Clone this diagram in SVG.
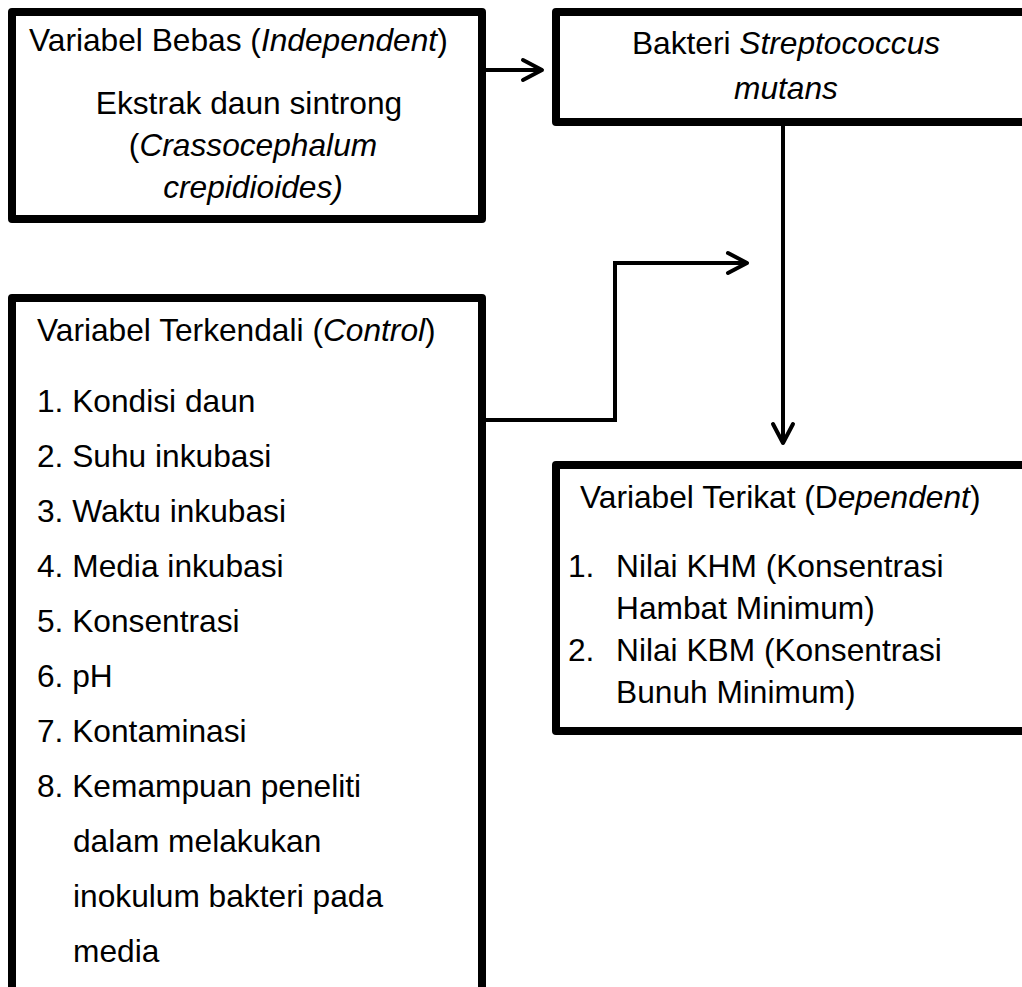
<svg xmlns="http://www.w3.org/2000/svg" width="1022" height="987" viewBox="0 0 1022 987">
<style>
.box{fill:#fff;stroke:#000;stroke-width:8;stroke-linejoin:round}
.t{font-family:"Liberation Sans",Arial,sans-serif;font-size:31.7px;fill:#000}
.i{font-style:italic}
.c{text-anchor:middle}
.ln{fill:none;stroke:#000;stroke-width:4}
</style>
<defs>
<marker id="ah" markerUnits="userSpaceOnUse" viewBox="-24 -14 28 28" markerWidth="28" markerHeight="28" refX="0" refY="0" orient="auto">
<path d="M-19,-10 L0,0 L-19,10" fill="none" stroke="#000" stroke-width="4" stroke-linecap="round" stroke-linejoin="round"/>
</marker>
</defs>
<rect width="1022" height="987" fill="#fff"/>
<g id="connectors">
<path class="ln" d="M486,70 H542" marker-end="url(#ah)"/>
<path class="ln" d="M783,126 V443" marker-end="url(#ah)"/>
<path class="ln" d="M486,420 H615 V263 H747" marker-end="url(#ah)"/>
</g>
<g id="bebas">
<rect class="box" x="12" y="12" width="470" height="207"/>
<text class="t" x="29" y="51">Variabel Bebas (<tspan class="i">Independent</tspan>)</text>
<text class="t c" x="249" y="114">Ekstrak daun sintrong</text>
<text class="t c" x="253" y="156">(<tspan class="i">Crassocephalum</tspan></text>
<text class="t c i" x="253" y="198">crepidioides)</text>
</g>
<g id="bakteri">
<rect class="box" x="556" y="12" width="480" height="110"/>
<text class="t c" x="786" y="54">Bakteri <tspan class="i">Streptococcus</tspan></text>
<text class="t c i" x="786" y="99">mutans</text>
</g>
<g id="terkendali">
<rect class="box" x="12" y="298" width="470" height="720"/>
<text class="t" x="37" y="341">Variabel Terkendali (<tspan class="i">Control</tspan>)</text>
<text class="t" x="37" y="412">1. Kondisi daun</text>
<text class="t" x="37" y="467">2. Suhu inkubasi</text>
<text class="t" x="37" y="522">3. Waktu inkubasi</text>
<text class="t" x="37" y="577">4. Media inkubasi</text>
<text class="t" x="37" y="632">5. Konsentrasi</text>
<text class="t" x="37" y="687">6. pH</text>
<text class="t" x="37" y="742">7. Kontaminasi</text>
<text class="t" x="37" y="797">8. Kemampuan peneliti</text>
<text class="t" x="73" y="852">dalam melakukan</text>
<text class="t" x="73" y="907">inokulum bakteri pada</text>
<text class="t" x="73" y="962">media</text>
</g>
<g id="terikat">
<rect class="box" x="556" y="465" width="480" height="266"/>
<text class="t" x="580" y="508">Variabel Terikat (D<tspan class="i">ependent</tspan>)</text>
<text class="t" x="568" y="577">1.</text>
<text class="t" x="616" y="577">Nilai KHM (Konsentrasi</text>
<text class="t" x="616" y="619">Hambat Minimum)</text>
<text class="t" x="568" y="661">2.</text>
<text class="t" x="616" y="661">Nilai KBM (Konsentrasi</text>
<text class="t" x="616" y="703">Bunuh Minimum)</text>
</g>
</svg>
